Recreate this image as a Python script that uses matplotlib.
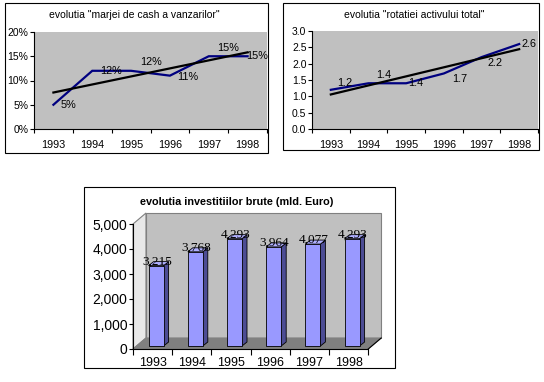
#!/usr/bin/env python3

import matplotlib
matplotlib.use("Agg")
import matplotlib.pyplot as plt
import matplotlib.ticker
import numpy as np
from matplotlib.patches import Polygon, Rectangle

# Data ...
years = ["1993", "1994", "1995", "1996", "1997", "1998"]
marja = [5, 12, 12, 11, 15, 15]                                     # [%]
marjaLabels = ["5%", "12%", "12%", "11%", "15%", "15%"]
rotatie = [1.2, 1.4, 1.4, 1.7, 2.2, 2.6]
rotatieLabels = ["1.2", "1.4", "1.4", "1.7", "2.2", "2.6"]
invest = [3215, 3768, 4293, 3964, 4077, 4293]                        # [mld. Euro]

W, H = 544, 382
plt.rcParams["font.family"] = ["Liberation Sans", "DejaVu Sans"]

fg = plt.figure(figsize = (W / 100, H / 100), dpi = 100)
fg.patch.set_facecolor("white")


def px_axes(x0, y0, x1, y1):
    return fg.add_axes([x0 / W, 1.0 - y1 / H, (x1 - x0) / W, (y1 - y0) / H])


# Background axis for the chart frames ...
bg = fg.add_axes([0, 0, 1, 1])
bg.set_xlim(0, W)
bg.set_ylim(H, 0)
bg.axis("off")
for x0, y0, x1, y1 in [(5, 3, 268, 153), (283, 3, 539, 150), (84, 187, 395, 368)]:
    bg.add_patch(Rectangle((x0, y0), x1 - x0, y1 - y0, facecolor = "white",
                           edgecolor = "black", linewidth = 0.8))


def line_chart(rect, values, labels, offsets, ylim, yticks, yfmt, title, tx, ty):
    ax = px_axes(*rect)
    ax.set_facecolor("#c0c0c0")
    xs = np.arange(len(values)) + 0.5
    ax.plot(xs, values, color = "#000080", linewidth = 1.6, solid_joinstyle = "miter", zorder = 3)
    coef = np.polyfit(xs, values, 1)
    ax.plot(xs[[0, -1]], np.polyval(coef, xs[[0, -1]]), color = "black", linewidth = 1.6, zorder = 4)
    for x, v, lab, (dx, dy) in zip(xs, values, labels, offsets):
        ax.annotate(lab, (x, v), xytext = (dx, -dy), textcoords = "offset pixels",
                    ha = "left", va = "center", fontsize = 7.8, zorder = 5,
                    annotation_clip = False)
    ax.set_xlim(0, len(values))
    ax.set_ylim(*ylim)
    ax.set_yticks(yticks)
    ax.yaxis.set_major_formatter(matplotlib.ticker.FuncFormatter(yfmt))
    ax.set_xticks(range(len(values) + 1))
    ax.set_xticklabels([])
    ax.set_xticks(xs, minor = True)
    ax.set_xticklabels(years, minor = True)
    ax.tick_params(axis = "x", which = "major", length = 3, width = 0.8, direction = "out")
    ax.tick_params(axis = "x", which = "minor", length = 0, pad = 8, labelsize = 7.8)
    ax.tick_params(axis = "y", length = 3, width = 0.8, pad = 1, labelsize = 7.5)
    for s in ["top", "right"]:
        ax.spines[s].set_visible(False)
    for s in ["left", "bottom"]:
        ax.spines[s].set_linewidth(0.8)
    bg.text(tx, ty, title, ha = "center", va = "center", fontsize = 7.5)
    return ax


line_chart((34, 32, 267, 129), marja, marjaLabels,
           [(7, 0), (8, 0), (9, -9), (7, 1), (8, -8), (-1, 0)],
           (0, 20), range(0, 21, 5), lambda v, p: f"{v:.0f}%",
           "evolutia \"marjei de cash a vanzarilor\"", 134, 15)

line_chart((312, 31, 538, 129), rotatie, rotatieLabels,
           [(6, -7), (8, -8), (2, 0), (8, 6), (6, 6), (2, 0)],
           (0, 3), np.arange(0, 3.01, 0.5), lambda v, p: f"{v:.1f}",
           "evolutia \"rotatiei activului total\"", 414, 15)

# **************************************************************************

# 3D-looking bar chart ...
cat = 39.2                                                          # [px]
upx = 40.0                                                          # [value/px]
ax = px_axes(118, 205, 392, 356)
ax.set_xlim((118 - 133) / cat, (392 - 133) / cat)
ax.set_ylim((349 - 356) * upx, (349 - 205) * upx)
ax.set_facecolor("none")
n = len(invest)
ymax = 5000
DX, DY = 13 / cat, 11 * upx
ox, oy = 3.5 / cat, 3 * upx
bw = 15 / cat
bdx, bdy = 5 / cat, 4 * upx

# Walls and floor ...
ax.add_patch(Polygon([(0, 0), (DX, DY), (DX, ymax + DY), (0, ymax)],
                     closed = True, facecolor = "#e8e8e8", edgecolor = "#808080", linewidth = 0.8))
ax.add_patch(Polygon([(DX, DY), (n + DX, DY), (n + DX, ymax + DY), (DX, ymax + DY)],
                     closed = True, facecolor = "#c0c0c0", edgecolor = "#808080", linewidth = 0.8))
ax.add_patch(Polygon([(0, 0), (n, 0), (n + DX, DY), (DX, DY)],
                     closed = True, facecolor = "#808080", edgecolor = "#808080", linewidth = 0.8))
ax.plot([n, n + DX], [0, DY], color = "black", linewidth = 0.8)

for i, v in enumerate(invest):
    x0 = i + 0.5 - bw / 2 + ox
    x1 = x0 + bw
    ax.add_patch(Polygon([(x1, oy), (x1 + bdx, oy + bdy), (x1 + bdx, oy + v + bdy), (x1, oy + v)],
                         closed = True, facecolor = "#4c4c94", edgecolor = "black", linewidth = 0.6))
    ax.add_patch(Polygon([(x0, oy + v), (x1, oy + v), (x1 + bdx, oy + v + bdy), (x0 + bdx, oy + v + bdy)],
                         closed = True, facecolor = "#b0b0ff", edgecolor = "black", linewidth = 0.6))
    ax.add_patch(Rectangle((x0, oy), bw, v, facecolor = "#9999ff", edgecolor = "black", linewidth = 0.6))
    ax.text(i + 0.5 + ox + 0.02, oy + v + bdy, f"{v:,d}", ha = "center", va = "center",
            fontsize = 9.5, family = ["Liberation Serif"], zorder = 5)

for s in ["top", "right"]:
    ax.spines[s].set_visible(False)
ax.spines["left"].set_position(("data", 0))
ax.spines["left"].set_bounds(0, ymax)
ax.spines["bottom"].set_position(("data", 0))
ax.spines["bottom"].set_bounds(0, n)
ax.set_yticks(range(0, ymax + 1, 1000))
ax.yaxis.set_major_formatter(matplotlib.ticker.FuncFormatter(lambda v, p: f"{v:,.0f}"))
ax.set_xticks(range(n + 1))
ax.set_xticklabels([])
ax.set_xticks(np.arange(n) + 0.5, minor = True)
ax.set_xticklabels(years, minor = True)
ax.tick_params(axis = "x", which = "major", length = 4, width = 0.8)
ax.tick_params(axis = "x", which = "minor", length = 0, pad = 6, labelsize = 9)
ax.tick_params(axis = "y", length = 3, width = 0.8, pad = 1, labelsize = 10)

bg.text(237, 202, "evolutia investitiilor brute (mld. Euro)", ha = "center", va = "center",
        fontsize = 7.8, fontweight = "bold")

fg.savefig("out.png", dpi = 100)
plt.close(fg)
